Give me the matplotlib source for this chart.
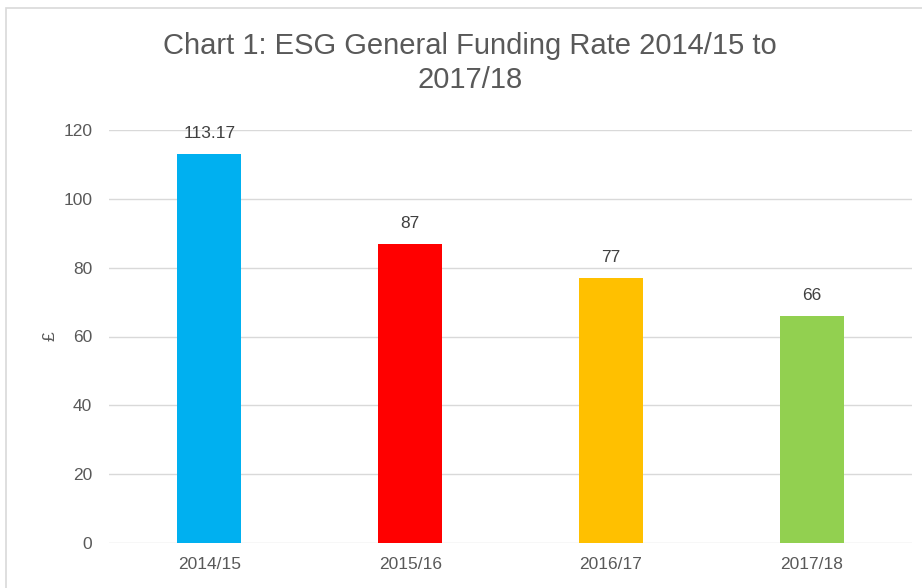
import matplotlib.pyplot as plt
from matplotlib.patches import Rectangle

years = ['2014/15', '2015/16', '2016/17', '2017/18']
rates = [113.17, 87, 77, 66]
rate_labels = ['113.17', '87', '77', '66']
colours = ['#00B0F0', '#FF0000', '#FFC000', '#92D050']

plt.rcParams['font.family'] = ['Liberation Sans', 'DejaVu Sans']

fig = plt.figure(figsize=(9.22, 5.88), dpi=100)
ax = fig.add_axes([109/922, 45/588, 803/922, 413/588])

x = range(len(years))
bars = ax.bar(x, rates, width=0.32, color=colours, zorder=3)
for bar, lab in zip(bars, rate_labels):
    ax.annotate(lab, (bar.get_x() + bar.get_width()/2, bar.get_height()),
                xytext=(0, 9), textcoords='offset points',
                ha='center', va='bottom', fontsize=12.5, color='#404040')

ax.set_xlim(-0.5, 3.5)
ax.set_ylim(0, 120)
ax.set_yticks(range(0, 121, 20))
ax.set_xticks(list(x), years)
ax.grid(axis='y', color='#D9D9D9', linewidth=1, zorder=0)
for s in ax.spines.values():
    s.set_visible(False)
ax.tick_params(length=0, labelsize=12.5, labelcolor='#595959')
ax.tick_params(axis='y', pad=12)
ax.tick_params(axis='x', pad=10)
ax.set_ylabel('£', fontsize=12.5, color='#595959', labelpad=4)

fig.text(470/922, 1 - 63/588, 'Chart 1: ESG General Funding Rate 2014/15 to\n2017/18',
         ha='center', va='center', fontsize=21, color='#595959', linespacing=1.3)

# light chart frame
fig.patches.append(Rectangle((6/922, -0.1), 1.1, 1 - 8/588 + 0.1, transform=fig.transFigure,
                             fill=False, edgecolor='#D9D9D9', linewidth=1.2))

fig.savefig('out.png', dpi=100)
